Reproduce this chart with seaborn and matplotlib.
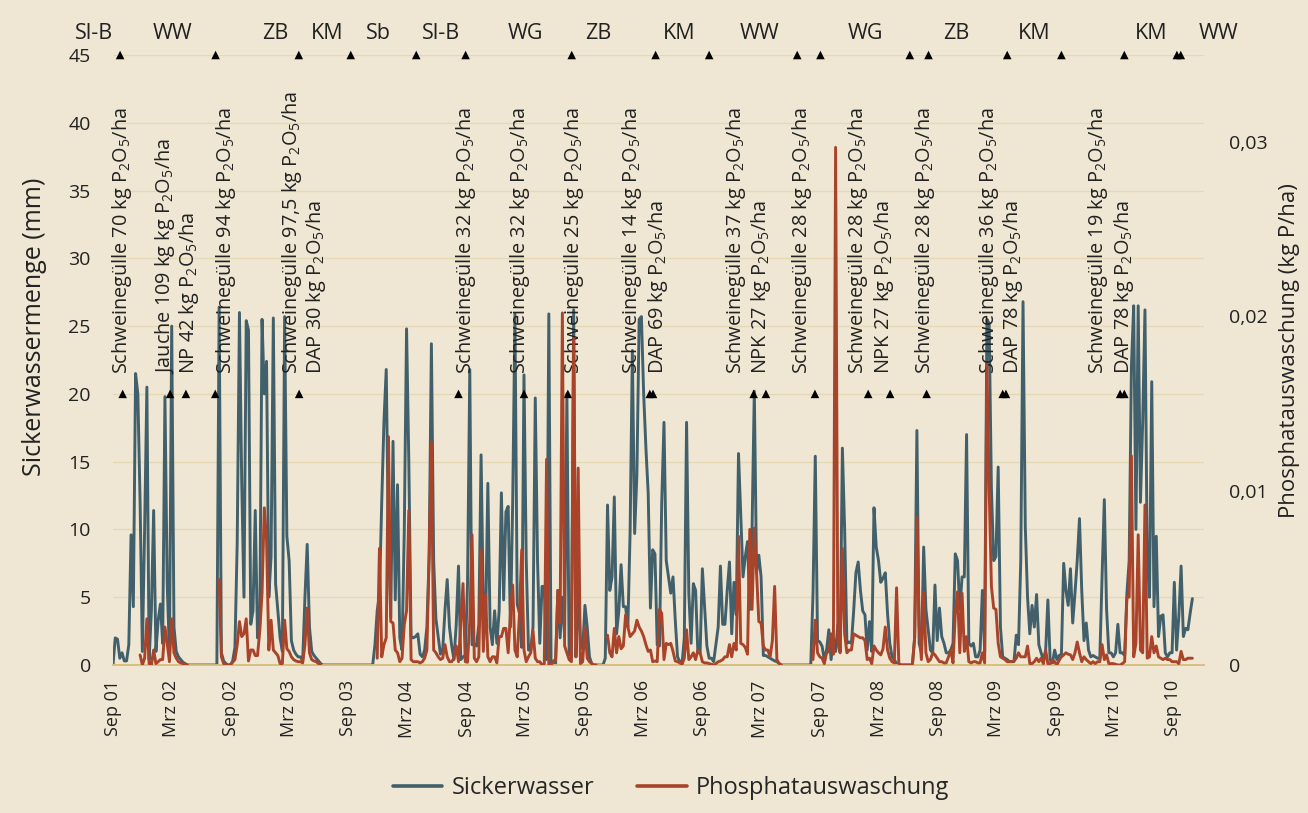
import numpy as np
import pandas as pd
import matplotlib
matplotlib.use("Agg")
import matplotlib.pyplot as plt
from matplotlib.lines import Line2D
import seaborn as sns

sns.set_style("white")
plt.rcParams['font.family'] = ['Open Sans', 'DejaVu Sans']
plt.rcParams['mathtext.fontset'] = 'custom'
plt.rcParams['mathtext.rm'] = 'Open Sans'
plt.rcParams['mathtext.it'] = 'Open Sans'

NaN = np.nan
START = "2001-09-01"  # first weekly value

# ---- Sickerwasser (mm), weekly values ----
sick_0 = [0, 2.0, 1.9, 0.5, 0.9, 0.3, 0.3, 1.5, 9.6, 4.3,
          21.5, 20.0, 12.0, 1.0, 10.0, 20.5, 0.4, 4.0, 11.4, 1.0,
          3.3, 4.5, 1.6, 19.8, 6.0, 0.8, 25.0, 2.8, 1.0, 0.6,
          0.4, 0.2, 0.1, 0, 0, 0, 0, 0, 0, 0,
          0, 0, 0, 0, 0, 0, 0, 26.4, 0.9, 0.3,
          0.1, 0]
sick_1 = [0, 0.3, 1.3, 9.0, 26.0, 13.5, 5.0, 25.4,
          24.7, 3.0, 4.0, 11.4, 2.0, 3.0, 25.5, 20.0, 22.4, 5.0,
          8.0, 25.6, 6.0, 4.0, 2.0, 1.0, 25.7, 9.5, 7.7, 1.8,
          1.1, 0.8, 0.6, 0.6, 0.3, 5.0, 8.9, 2.8, 1.0, 0.7,
          0.5, 0.3, 0.1, 0, 0, 0, 0, 0, 0, 0,
          0, 0, 0, 0]
sick_2 = [0, 0, 0, 0, 0, 0,
          0, 0, 0, 0, 0, 0, 1.5, 4.0, 5.2, 12.0,
          18.0, 21.8, 9.0, 3.5, 16.5, 4.8, 13.3, 2.0, 1.1, 10.0,
          24.8, 15.0, 2.1, 2.0, 2.1, 2.3, 0.8, 0.6, 1.1, 2.8,
          8.0, 23.7, 7.7, 3.4, 2.1, 0.8, 1.1, 4.0, 6.3, 2.8,
          1.4, 0.4, 3.0, 7.3, 0.4, 0.6]
sick_3 = [0.7, 6.0, 21.8, 1.5,
          1.5, 1.4, 3.0, 15.5, 4.4, 3.0, 13.4, 2.8, 1.5, 4.0,
          1.6, 4.0, 12.7, 4.8, 11.3, 11.7, 2.8, 12.0, 25.9, 4.5,
          3.8, 1.3, 21.4, 7.7, 1.1, 1.1, 2.8, 19.7, 7.7, 1.6,
          5.8, 5.8, 0.4, 25.9, 0, 0, 0.1, 5.5, 2.0, 5.0,
          2.1, 20.0, 0.9, 0.6, 26.2, 0.6, 6.0, 1.5]
sick_4 = [1.2, 4.4,
          2.8, 0.6, 0.1, 0, 0, 0, 0, 0, 0.5, 11.8,
          5.5, 6.5, 12.4, 2.3, 4.0, 7.4, 4.3, 4.3, 2.8, 9.8,
          23.2, 9.7, 14.0, 25.5, 25.7, 20.0, 16.0, 12.7, 4.2, 8.5,
          8.2, 1.5, 1.4, 12.0, 17.9, 7.7, 6.5, 5.3, 6.5, 3.3,
          0.6, 0.25, 0.1, 2.0, 17.9, 5.3, 1.6, 6.0, 5.5, 0.9]
sick_5 = [0.9, 7.1, 4.3, 1.4, 0.5, 0.5, 0.25, 1.5, 2.8, 7.3,
          3.0, 3.0, 5.5, 7.6, 2.3, 6.1, 3.7, 15.6, 11.0, 6.5,
          8.0, 9.1, 4.1, 10.0, 20.2, 6.8, 8.1, 6.5, 0.7, 0.7,
          0.6, 0.5, 0.4, 0.3, 0.25, 0.1, 0, 0, 0, 0,
          0, 0, 0, 0, 0, 0, 0, 0, 0, 0,
          5.3, 15.4]
sick_6 = [1.8, 1.7, 1.4, 0.4, 1.1, 2.6, 0.4, 2.0,
          1.0, 3.0, 1.0, 16.0, 10.0, 1.6, 1.7, 1.6, 4.0, 6.8,
          7.6, 5.5, 4.0, 3.7, 1.1, 3.2, 1.0, 11.6, 8.7, 7.7,
          6.1, 6.4, 6.8, 3.8, 1.6, 0.6, 0.4, 0.1, 0, 0,
          0, 0, 0, 0, 0, 2.0, 17.3, 1.6, 0.9, 8.7,
          4.1, 2.6, 1.1, 0.9]
sick_7 = [5.9, 1.8, 4.2, 2.1, 1.6, 0.9,
          0.9, 1.1, 1.6, 8.2, 7.7, 4.1, 6.5, 6.5, 17.0, 1.6,
          1.4, 1.6, 0.6, 0.6, 1.1, 5.5, 1.0, 25.5, 25.2, 13.0,
          7.7, 8.0, 14.6, 2.8, 0.6, 0.5, 0.4, 0.25, 0.25, 0.25,
          2.2, 1.5, 7.7, 26.8, 10.2, 5.0, 2.3, 4.4, 2.8, 5.2,
          1.5, 0.9, 0.4, 1.0, 4.8, 0.4]
sick_8 = [0.1, 1.1, 0.4, 0.7,
          0.8, 7.5, 5.5, 4.4, 7.1, 3.1, 5.3, 7.7, 10.8, 5.5,
          1.8, 3.1, 1.1, 0.6, 0.7, 0.6, 0.5, 0.5, 6.5, 12.2,
          4.1, 0.9, 0.9, 0.6, 0.9, 3.0, 0.9, 0.9, 0.7, 5.3,
          7.7, 22.0, 26.5, 10.0, 26.5, 12.0, 18.0, 26.2, 8.0, 5.0,
          20.9, 4.3, 9.5, 2.1, 3.6, 3.7, 0.9, 0.6, 0.9, 0.9,
          6.1, 1.1, 3.6, 7.3, 2.1, 2.7, 2.6, 3.8, 4.9]

# ---- Phosphatauswaschung (g P/ha), weekly values ----
phos_0 = [NaN] * 12 + [0.58, 0, 0.39, 2.65, 0.08, 0, 0.86, 0.08,
          0.19, 0.31, 0.31, 2.18, 1.24, 0.19, 2.65, 0.70, 0.39, 0.19,
          0.12, 0.08, 0.04, 0] + [NaN] * 13 + [4.90, 0.47, 0.08, 0, 0]
phos_1 = [0, 0.16, 0.31, 1.17, 2.49, 1.63, 1.79, 2.65,
          0.23, 0.86, 0.86, 0.54, 0.54, 1.95, 4.12, 9.02, 7.16, 0.86,
          2.57, 0.86, 0.70, 0.54, 0.08, 0.08, 2.57, 0.93, 0.78, 0.47,
          0.31, 0.23, 0.19, 0.19, 0.12, 1.17, 3.27, 0.70, 0.31, 0.23,
          0.19, 0.08, 0.04] + [NaN] * 11
phos_2 = [NaN] * 13 + [0.39, 6.69, 0.47,
          1.17, 1.56, 13.1, 2.49, 2.41, 0.86, 0.70, 0.19, 0.39, 2.33,
          3.11, 8.87, 0.31, 0.19, 0.19, 0.19, 0.12, 0.19, 0.39, 0.86,
          6.22, 12.8, 0.86, 0.70, 0.47, 0.31, 0.39, 1.17, 0.47, 0.19,
          0.19, 0.39, 1.09, 0.19, 2.33, 4.67]
phos_3 = [0.19, 0.16, 2.57, 7.47,
          0.39, 0.19, 0.47, 6.61, 0.78, 4.05, 0.47, 0.19, 0.47, 0.47,
          0.12, 1.63, 1.63, 2.10, 2.10, 0.70, 2.96, 4.59, 0.86, 0.47,
          2.96, 6.61, 0.86, 0.19, 0.47, 0.70, 1.95, 0.39, 0.19, 0.19,
          0, 0.08, 11.8, 0, 0, 0.23, 0.31, 4.28, 2.41, 20.2,
          1.09, 0.70, 0.31, 0.19, 18.7, 0.47, 11.3, 0.08]
phos_4 = [0.19, 2.18,
          0.39, 0.19, 0.08, 0, 0] + [NaN] * 4 + [1.71,
          0.70, 0.47, 2.10, 0.70, 1.63, 0.93, 1.09, 2.88, 2.18, 1.63,
          1.79, 1.95, 2.57, 2.18, 1.95, 1.63, 1.17, 0.78, 0.86, 0.19,
          0.23, 0.19, 3.19, 2.96, 0.31, 1.24, 1.17, 1.24, 0.78, 0.23,
          0.19, 0.12, 0.04, 0.39, 2.02, 0.31, 0.47, 0.70, 0.31, 0.86]
phos_5 = [0.70, 0.19, 0.12, 0.12, 0.08, 0.04, 0, 0.08, 0.19, 0.23,
          0.31, 0.47, 0.47, 1.17, 0.47, 1.24, 0.86, 7.39, 1.24, 1.17,
          1.01, 0.62, 7.78, 3.19, 7.86, 5.29, 2.49, 2.41, 1.09, 0.86,
          0.86, 0.47, 1.40, 4.51, 0.31, 0.08, 0] + [NaN] * 13 + [0.31, 2.57]
phos_6 = [0.70, 0.47, 0.39, 0.08, 0.70, 0.78, 1.79, 0.62,
          29.7, 1.24, 0.70, 6.69, 1.79, 0.70, 0.86, 0.86, 1.79, 1.71,
          1.63, 1.56, 1.56, 1.40, 0.31, 0.39, 0.08, 1.09, 0.86, 0.70,
          0.58, 0.93, 2.18, 0.86, 0.39, 0.19, 0.12, 4.43, 0.08, 0,
          0, 0, 0, 0, 0, 1.56, 8.48, 2.18, 0.31, 4.20,
          0.70, 0.19, 0.31, 0.70]
phos_7 = [0.58, 0.39, 0.19, 0.19, 0.12, 0.12,
          0.47, 0.86, 0.12, 2.96, 4.20, 0.70, 4.12, 0.78, 1.63, 0.19,
          0.12, 0.19, 0.19, 0.12, 0.12, 0.70, 0.12, 17.2, 10.1, 4.51,
          3.27, 3.19, 1.24, 0.47, 0.39, 0.31, 0.19, 0.19, 0.19, 0.23,
          0.39, 0.70, 0.47, 0.47, 0.47, 1.09, 0.08, 0.08, 0.19, 0.39,
          0.19, 0.39, 0.08, 0.86, 0.08, 0.08]
phos_8 = [0.27, 0.19, 0, 0.27,
          0.47, 0.58, 0.70, 0.62, 0.58, 0.31, 0.70, 1.32, 0.70, 0.19,
          0.47, 0.31, 0.19, 0.08, 0.19, 0.08, 0.19, 0.19, 1.17, 0.31,
          0.58, 0.08, 0.08, 0.08, 0.04, 0, 0, 0.08, 0.19, 3.89,
          3.89, 12.0, 0.47, 1.24, 7.47, 0.86, 0.70, 9.18, 0.39, 0.47,
          1.63, 0.70, 1.09, 0.47, 0.39, 0.31, 0.39, 0.31, 0.31, 0.19,
          0.19, 0.19, 0.08, 0.78, 0.31, 0.31, 0.39, 0.39, 0.39]

# ---- axis ticks ----
tick_dates = ["2001-09-01", "2002-03-01", "2002-09-01", "2003-03-01", "2003-09-01",
              "2004-03-01", "2004-09-01", "2005-03-01", "2005-09-01", "2006-03-01",
              "2006-09-01", "2007-03-01", "2007-09-01", "2008-03-01", "2008-09-01",
              "2009-03-01", "2009-09-01", "2010-03-01", "2010-09-01"]
tick_labels = ["Sep 01", "Mrz 02", "Sep 02", "Mrz 03", "Sep 03", "Mrz 04", "Sep 04",
               "Mrz 05", "Sep 05", "Mrz 06", "Sep 06", "Mrz 07", "Sep 07", "Mrz 08",
               "Sep 08", "Mrz 09", "Sep 09", "Mrz 10", "Sep 10"]
left_ticks = [0, 5, 10, 15, 20, 25, 30, 35, 40, 45]
right_ticks = [0, 0.01, 0.02, 0.03]
right_labels = ["0", "0,01", "0,02", "0,03"]

# ---- crops (top row) ----
crops = ["Sl-B", "WW", "ZB", "KM", "Sb", "Sl-B", "WG", "ZB", "KM", "WW",
         "WG", "ZB", "KM", "KM", "WW"]
crop_dates = ["2001-07-03", "2002-03-05", "2003-01-17", "2003-06-27", "2003-12-02",
              "2004-06-14", "2005-03-01", "2005-10-14", "2006-06-23", "2007-02-26",
              "2008-01-22", "2008-10-29", "2009-06-28", "2010-06-25", "2011-01-18"]
crop_change_dates = ["2001-09-23", "2002-07-16", "2003-03-31", "2003-09-08", "2004-03-29",
                     "2004-08-29", "2005-07-24", "2006-04-10", "2006-09-23", "2007-06-23",
                     "2007-09-03", "2008-06-06", "2008-08-03", "2009-04-04", "2009-09-19",
                     "2010-04-02", "2010-09-12", "2010-09-24"]

# ---- fertiliser applications ----
fert_dates = ["2001-10-01", "2002-02-25", "2002-04-15", "2002-07-15", "2003-04-01",
              "2004-08-07", "2005-02-26", "2005-07-12", "2006-03-23", "2006-04-02",
              "2007-02-08", "2007-03-18", "2007-08-17", "2008-01-29", "2008-04-06",
              "2008-07-28", "2009-03-21", "2009-03-31", "2010-03-20", "2010-04-02"]
fert_label_dates = ["2001-09-29", "2002-02-09", "2002-04-25", "2002-08-18", "2003-03-09",
                    "2003-05-24", "2004-08-31", "2005-02-15", "2005-08-01", "2006-01-28",
                    "2006-04-16", "2006-12-14", "2007-03-02", "2007-07-07", "2007-12-28",
                    "2008-03-17", "2008-07-23", "2009-02-06", "2009-04-22", "2010-01-10",
                    "2010-04-01"]
P2O5 = "P$_2$O$_5$/ha"
fert_labels = ["Schweinegülle 70 kg " + P2O5, "Jauche 109 kg kg " + P2O5,
               "NP 42 kg " + P2O5, "Schweinegülle 94 kg " + P2O5,
               "Schweinegülle 97,5 kg " + P2O5, "DAP 30 kg " + P2O5,
               "Schweinegülle 32 kg " + P2O5, "Schweinegülle 32 kg " + P2O5,
               "Schweinegülle 25 kg " + P2O5, "Schweinegülle 14 kg " + P2O5,
               "DAP 69 kg " + P2O5, "Schweinegülle 37 kg " + P2O5,
               "NPK 27 kg " + P2O5, "Schweinegülle 28 kg " + P2O5,
               "Schweinegülle 28 kg " + P2O5, "NPK 27 kg " + P2O5,
               "Schweinegülle 28 kg " + P2O5, "Schweinegülle 36 kg " + P2O5,
               "DAP 78 kg " + P2O5, "Schweinegülle 19 kg " + P2O5,
               "DAP 78 kg " + P2O5]

# ---- assemble ----
sicker = np.array(sick_0 + sick_1 + sick_2 + sick_3 + sick_4 + sick_5 + sick_6 + sick_7 + sick_8, dtype=float)
phos_g = np.array(phos_0 + phos_1 + phos_2 + phos_3 + phos_4 + phos_5 + phos_6 + phos_7 + phos_8, dtype=float)
dates = pd.date_range(START, periods=len(sicker), freq="7D")
df = pd.DataFrame({"Datum": dates, "Sickerwasser": sicker, "Phosphat": phos_g / 1000.0})

BG = "#EFE7D3"
TEAL = "#41606B"
RUST = "#A9442A"
GRID = "#E5D9B5"
GOLD = "#D6BE78"
INK = "#222222"

fig = plt.figure(figsize=(13.08, 8.13), dpi=100, facecolor=BG)
ax = fig.add_axes([113 / 1308, 1 - 665 / 813, (1204 - 113) / 1308, (665 - 55) / 813])
ax.set_facecolor(BG)

sns.lineplot(data=df, x="Datum", y="Sickerwasser", ax=ax, color=TEAL, linewidth=2.1,
             estimator=None, sort=False)
ax2 = ax.twinx()
# phosphate line drawn in pieces so that gaps stay gaps
valid = df["Phosphat"].notna()
seg_id = (~valid).cumsum()
for _, seg in df[valid].groupby(seg_id[valid]):
    sns.lineplot(data=seg, x="Datum", y="Phosphat", ax=ax2, color=RUST, linewidth=2.1,
                 estimator=None, sort=False)

# crop row at the top
for name, d in zip(crops, crop_dates):
    ax.text(pd.Timestamp(d), 46.6, name, ha="center", va="center", fontsize=15.5,
            color=INK, clip_on=False)
sns.scatterplot(x=pd.to_datetime(crop_change_dates), y=[45] * len(crop_change_dates), ax=ax,
                marker="^", color="black", s=38, edgecolor="none", clip_on=False, zorder=5)

# fertiliser applications
sns.scatterplot(x=pd.to_datetime(fert_dates), y=[20] * len(fert_dates), ax=ax,
                marker="^", color="black", s=38, edgecolor="none", zorder=5)
for lab, d in zip(fert_labels, fert_label_dates):
    ax.text(pd.Timestamp(d), 21.5, lab, rotation=90, ha="center", va="bottom",
            fontsize=14.3, color=INK)

x0 = pd.Timestamp("2001-09-01")
x1 = pd.Timestamp("2010-12-05")
ax.set_xlim(x0, x1)
ax.set_ylim(0, 45)
ax2.set_ylim(0, 0.035)

ax.set_yticks(left_ticks)
ax.set_yticklabels([str(v) for v in left_ticks])
ax2.set_yticks(right_ticks)
ax2.set_yticklabels(right_labels)
ax.set_xticks(pd.to_datetime(tick_dates))
ax.set_xticklabels(tick_labels, rotation=90)

ax.yaxis.grid(True, color=GRID, linewidth=1.0)
ax.xaxis.grid(False)
ax.set_axisbelow(True)
for a in (ax, ax2):
    for s in ("top", "left", "right", "bottom"):
        a.spines[s].set_visible(False)
ax.spines["bottom"].set_visible(True)
ax.spines["bottom"].set_color(GOLD)
ax.spines["bottom"].set_linewidth(1.3)

ax.tick_params(axis="x", direction="out", length=5, width=1, color=GOLD,
               labelsize=13, labelcolor=INK, pad=6)
ax.tick_params(axis="y", length=0, labelsize=14, labelcolor=INK, pad=16)
ax2.tick_params(axis="y", length=0, labelsize=14, labelcolor=INK, pad=18)

ax.set_xlabel("")
ax2.set_xlabel("")
ax.set_ylabel("Sickerwassermenge (mm)", fontsize=18, color=INK)
ax.yaxis.set_label_coords(-0.0605, 0.554)
ax2.set_ylabel("Phosphatauswaschung (kg P/ha)", fontsize=16, color=INK)
ax2.yaxis.set_label_coords(1.0685, 0.516)

handles = [Line2D([0], [0], color=TEAL, lw=2.6), Line2D([0], [0], color=RUST, lw=2.6)]
fig.legend(handles, ["Sickerwasser", "Phosphatauswaschung"], loc="center",
           bbox_to_anchor=(0.513, 0.031), ncol=2, frameon=False, fontsize=17,
           handlelength=2.1, columnspacing=1.8, handletextpad=0.4)

fig.savefig("out.png", dpi=100, facecolor=BG)
